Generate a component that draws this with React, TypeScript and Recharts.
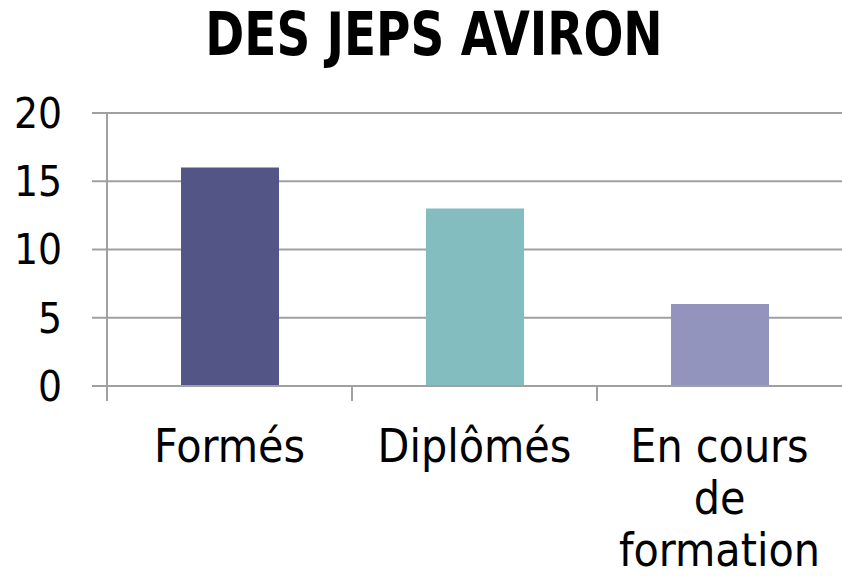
import React from "react";
import { BarChart, Bar, XAxis, YAxis, CartesianGrid, Cell } from "recharts";

const categories = ["Formés", "Diplômés", "En cours de formation"];
const categoryLines = [["Formés"], ["Diplômés"], ["En cours", "de", "formation"]];
const values = [16, 13, 6];
const barColors = ["#535587", "#84BDC0", "#9294BE"];
const yTicks = [0, 5, 10, 15, 20];

const data = categories.map((name, i) => ({ name, value: values[i], lines: categoryLines[i] }));

const AXIS_GRAY = "#a0a0a0";
const LABEL_FONT = "'DejaVu Sans Condensed', 'DejaVu Sans', sans-serif";

function CategoryTick(props: any) {
    const { x, y, payload, index, width } = props;
    const band = (width ?? 735) / categories.length;
    const lines = categoryLines[index ?? payload.index] ?? [payload.value];
    return (
        <g>
            <line x1={x - band / 2} x2={x - band / 2} y1={y} y2={y + 15} stroke={AXIS_GRAY} strokeWidth={2} />
            {lines.map((t: string, i: number) => (
                <text
                    key={t}
                    x={x}
                    y={y + 76 + i * 52}
                    textAnchor="middle"
                    fontFamily={LABEL_FONT}
                    fontSize={46}
                    fill="#000"
                >
                    {t}
                </text>
            ))}
        </g>
    );
}

export default function App() {
    return (
        <div style={{ position: "absolute", left: 0, top: 0, width: 842, height: 576, background: "#fff", overflow: "hidden" }}>
            <div
                style={{
                    position: "absolute",
                    left: 0,
                    top: 4,
                    width: 868,
                    textAlign: "center",
                    fontFamily: "'DejaVu Sans Condensed', 'DejaVu Sans', sans-serif",
                    fontWeight: "bold",
                    fontSize: 60,
                    lineHeight: "60px",
                    color: "#000",
                    transform: "scaleX(0.87)",
                    transformOrigin: "434px 0",
                }}
            >
                DES JEPS AVIRON
            </div>
            <BarChart
                width={842}
                height={576}
                data={data}
                margin={{ top: 113, right: 0, bottom: 40, left: 0 }}
            >
                <CartesianGrid vertical={false} stroke={AXIS_GRAY} strokeWidth={2} />
                <XAxis
                    dataKey="name"
                    height={150}
                    axisLine={{ stroke: AXIS_GRAY, strokeWidth: 2 }}
                    tickLine={false}
                    tickSize={0}
                    tickMargin={0}
                    interval={0}
                    tick={<CategoryTick />}
                />
                <YAxis
                    width={107}
                    domain={[0, 20]}
                    ticks={yTicks}
                    interval={0}
                    axisLine={{ stroke: AXIS_GRAY, strokeWidth: 2 }}
                    tickLine={{ stroke: AXIS_GRAY, strokeWidth: 2 }}
                    tickSize={15}
                    tickMargin={30}
                    tick={{ fontFamily: LABEL_FONT, fontSize: 42, fill: "#000" }}
                />
                <Bar dataKey="value" barSize={98} isAnimationActive={false}>
                    {data.map((d, i) => (
                        <Cell key={d.name} fill={barColors[i]} />
                    ))}
                </Bar>
            </BarChart>
        </div>
    );
}
